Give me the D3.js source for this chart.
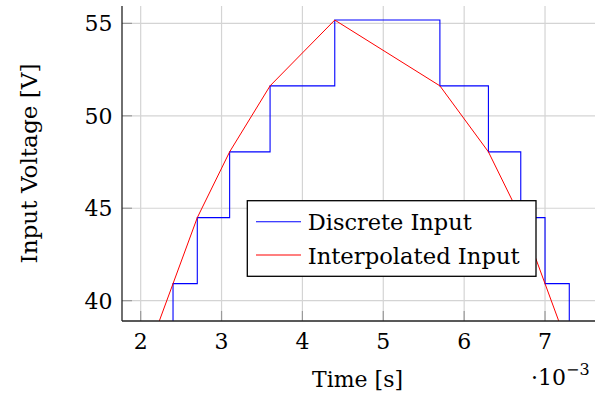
<!DOCTYPE html>
<html>
<head>
<meta charset="utf-8">
<script src="https://cdn.jsdelivr.net/npm/d3@7"></script>
<style>
  html, body { margin: 0; padding: 0; background: #fff; }
  svg { display: block; }
</style>
</head>
<body>
<svg id="chart" width="598" height="394"></svg>
<script>
// ---- data ----
const times = [2.1, 2.4, 2.7, 3.1, 3.6, 4.4, 5.7, 6.3, 6.7, 7.0, 7.3];          // ×10^-3 s
const voltages = [37.35, 40.92, 44.49, 48.05, 51.62, 55.18, 51.62, 48.05, 44.49, 40.92, 37.35];
const xTicks = [2, 3, 4, 5, 6, 7];
const yTicks = [40, 45, 50, 55];
const seriesNames = ["Discrete Input", "Interpolated Input"];
const seriesColors = ["#0000ff", "#ff0000"];

(function () {
// ---- layout ----
const svg = d3.select("#chart")
  .attr("font-family", "'DejaVu Serif', serif");
const pL = 122, pR = 595, pT = 6, pB = 321;
const FS = 22;

const x = d3.scaleLinear().domain([1.769, 7.618]).range([pL, pR]);
const y = d3.scaleLinear().domain([38.9, 55.94]).range([pB, pT]);

function fitText(sel, w) {
  sel.each(function () {
    const len = this.getComputedTextLength();
    if (len > 0) d3.select(this).attr("textLength", w).attr("lengthAdjust", "spacingAndGlyphs");
  });
}

// grid
const grid = svg.append("g");
grid.selectAll("line.gx").data(xTicks).join("line")
  .attr("x1", d => x(d)).attr("x2", d => x(d))
  .attr("y1", pT).attr("y2", pB)
  .attr("stroke", "#d4d4d4").attr("stroke-width", 1.2);
grid.selectAll("line.gy").data(yTicks).join("line")
  .attr("x1", pL).attr("x2", pR)
  .attr("y1", d => y(d)).attr("y2", d => y(d))
  .attr("stroke", "#d4d4d4").attr("stroke-width", 1.2);

// tick marks (inside)
const ticks = svg.append("g");
ticks.selectAll("line.tx").data(xTicks).join("line")
  .attr("x1", d => x(d)).attr("x2", d => x(d))
  .attr("y1", pB).attr("y2", pB - 10)
  .attr("stroke", "#9a9a9a").attr("stroke-width", 1.2);
ticks.selectAll("line.ty").data(yTicks).join("line")
  .attr("x1", pL).attr("x2", pL + 10)
  .attr("y1", d => y(d)).attr("y2", d => y(d))
  .attr("stroke", "#9a9a9a").attr("stroke-width", 1.2);

// clip
svg.append("clipPath").attr("id", "clip")
  .append("rect").attr("x", pL).attr("y", pT).attr("width", pR - pL).attr("height", pB - pT);

const pts = times.map((t, i) => [t, voltages[i]]);
const plot = svg.append("g").attr("clip-path", "url(#clip)");
plot.append("path")
  .attr("d", d3.line().x(d => x(d[0])).y(d => y(d[1])).curve(d3.curveStepAfter)(pts))
  .attr("fill", "none").attr("stroke", seriesColors[0]).attr("stroke-width", 1.1);
plot.append("path")
  .attr("d", d3.line().x(d => x(d[0])).y(d => y(d[1]))(pts))
  .attr("fill", "none").attr("stroke", seriesColors[1]).attr("stroke-width", 1.0);

// axis lines
svg.append("line").attr("x1", pL).attr("x2", pL).attr("y1", pT).attr("y2", pB)
  .attr("stroke", "#222").attr("stroke-width", 1.3);
svg.append("line").attr("x1", pL).attr("x2", pR).attr("y1", pB).attr("y2", pB)
  .attr("stroke", "#222").attr("stroke-width", 1.3);

// tick labels
svg.append("g").selectAll("text").data(xTicks).join("text")
  .attr("x", d => x(d)).attr("y", 348.5)
  .attr("text-anchor", "middle").attr("font-size", FS)
  .text(d => d);
svg.append("g").selectAll("text").data(yTicks).join("text")
  .attr("x", 112.5).attr("y", d => y(d) + 8)
  .attr("text-anchor", "end").attr("font-size", FS)
  .text(d => d);

// axis labels
svg.append("text").attr("x", 357.5).attr("y", 386.5)
  .attr("text-anchor", "middle").attr("font-size", FS)
  .text("Time [s]").call(fitText, 91);

const sci = svg.append("text").attr("x", 531).attr("y", 385).attr("font-size", FS);
sci.append("tspan").text("·10");
sci.append("tspan").attr("dy", -10).attr("font-size", 16).text("−3");

svg.append("text")
  .attr("transform", "translate(36.5," + ((pT + pB) / 2) + ") rotate(-90)")
  .attr("text-anchor", "middle").attr("font-size", FS)
  .text("Input Voltage [V]").call(fitText, 200);

// legend
const lg = svg.append("g");
lg.append("rect").attr("x", 247.3).attr("y", 200.7).attr("width", 288.7).attr("height", 75.6)
  .attr("fill", "#fff").attr("stroke", "#000").attr("stroke-width", 1.3);
const rowsY = [221.7, 255];
const widths = [164, 212];
seriesNames.forEach((name, i) => {
  lg.append("line").attr("x1", 256).attr("x2", 301).attr("y1", rowsY[i]).attr("y2", rowsY[i])
    .attr("stroke", seriesColors[i]).attr("stroke-width", 1.1);
  lg.append("text").attr("x", 307.7).attr("y", rowsY[i] + 8.5).attr("font-size", FS)
    .text(name).call(fitText, widths[i]);
});
})();
</script>
</body>
</html>
